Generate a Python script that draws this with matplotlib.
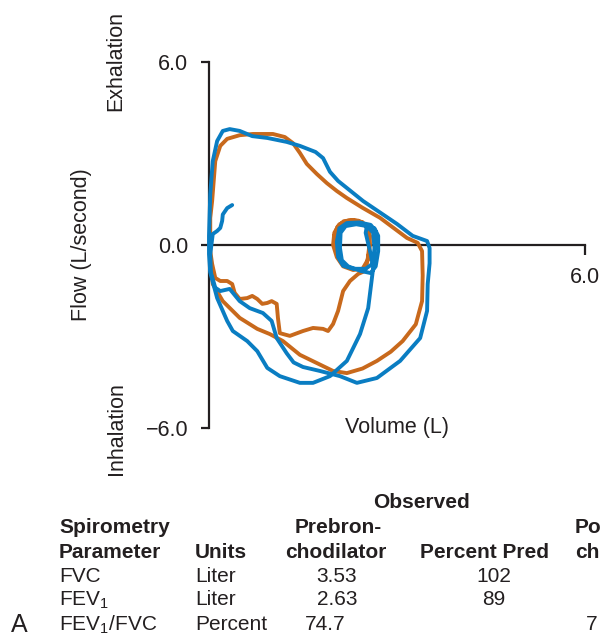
import matplotlib
matplotlib.use("Agg")
import matplotlib.pyplot as plt

plt.rcParams['font.family'] = ['Liberation Sans', 'DejaVu Sans']
plt.rcParams['mathtext.fontset'] = 'custom'
plt.rcParams['mathtext.rm'] = 'Liberation Sans'

# flow-volume loops, volume in L, flow in L/s
# prebronchodilator (orange)
pre_vol = [2.02, 2.0, 2.05, 2.15, 2.3, 2.45, 2.54, 2.56, 2.53, 2.45, 2.3, 2.14, 2.04, 1.98,
           2.0, 2.08, 2.22, 2.38, 2.5, 2.57, 2.56, 2.52, 2.49,
           2.38, 2.25, 2.14, 2.06, 1.98, 1.9, 1.82, 1.66, 1.5, 1.29, 1.13, 1.1, 1.08, 1.0,
           0.93, 0.85, 0.77, 0.69, 0.61, 0.49, 0.41, 0.37, 0.29, 0.18, 0.1, 0.05, 0.02, 0.02,
           0.02, 0.05, 0.1, 0.18, 0.29, 0.49, 0.7, 1.02, 1.21, 1.34, 1.45, 1.56, 1.72, 1.88,
           2.04, 2.2, 2.45, 2.73, 3.16, 3.33, 3.4,
           3.41, 3.4, 3.3, 3.09, 2.9, 2.68, 2.45, 2.2, 1.98, 1.72, 1.45, 1.18, 0.97, 0.77,
           0.49, 0.22, 0.06, 0.02]
pre_flow = [-0.1, 0.3, 0.6, 0.78, 0.82, 0.75, 0.5, 0.0, -0.5, -0.78, -0.82, -0.7, -0.4, 0.0,
            0.4, 0.68, 0.8, 0.8, 0.65, 0.3, -0.2, -0.6, -0.85,
            -0.95, -1.18, -1.51, -2.16, -2.59, -2.82, -2.75, -2.72, -2.82, -2.98, -2.89, -2.39, -1.93, -1.84,
            -1.9, -1.93, -1.77, -1.67, -1.74, -1.77, -1.57, -1.28, -1.18, -1.18, -1.08, -0.62, -0.2, 0.3,
            0.89, 1.44, 2.75, 3.25, 3.48, 3.6, 3.64, 3.64, 3.54, 3.34, 3.02, 2.66, 2.33, 2.03,
            1.77, 1.54, 1.22, 0.89, 0.23, 0.07, -0.2,
            -1.0, -1.84, -2.6, -3.15, -3.5, -3.8, -4.05, -4.2, -4.13, -3.87, -3.6, -3.15, -2.92, -2.75,
            -2.39, -1.84, -1.28, -0.5]

# postbronchodilator (blue)
post_vol = [2.66, 2.66, 2.58, 2.4, 2.2, 2.08, 2.04, 2.06, 2.14, 2.3, 2.5, 2.62, 2.64, 2.62,
            2.52, 2.35, 2.18, 2.1, 2.09, 2.12, 2.22, 2.42, 2.58, 2.66, 2.7, 2.7, 2.64, 2.52,
            2.5, 2.58, 2.62,
            2.54, 2.41, 2.2, 1.93, 1.66, 1.45, 1.13, 0.93, 0.77, 0.61, 0.38, 0.29, 0.13, 0.02,
            0.0, 0.0,
            0.02, 0.06, 0.13, 0.22, 0.33, 0.49, 0.69, 0.93, 1.24, 1.45, 1.7, 1.82, 1.93, 2.06,
            2.46, 3.0, 3.25, 3.48, 3.52,
            3.52, 3.49, 3.48, 3.37, 3.05, 2.68, 2.36, 2.09, 1.77, 1.5, 1.35, 1.24, 1.08, 1.0,
            0.86, 0.65, 0.49, 0.33, 0.18, 0.1, 0.03, 0.02,
            0.06, 0.13, 0.18, 0.21, 0.22, 0.29, 0.37]
post_flow = [0.0, 0.45, 0.66, 0.74, 0.72, 0.55, 0.1, -0.4, -0.68, -0.78, -0.78, -0.6, -0.1, 0.4,
             0.62, 0.68, 0.62, 0.4, -0.1, -0.5, -0.7, -0.85, -0.92, -0.7, -0.2, 0.3, 0.55, 0.62,
             0.4, -0.3, -0.75,
             -2.07, -2.92, -3.8, -4.3, -4.52, -4.52, -4.3, -4.03, -3.48, -3.15, -2.82, -2.49, -1.74, -0.9,
             -0.3, 0.3,
             1.67, 2.75, 3.41, 3.74, 3.8, 3.74, 3.57, 3.51, 3.38, 3.25, 3.05, 2.85, 2.4, 2.1,
             1.44, 0.69, 0.3, 0.13, -0.1,
             -0.6, -1.28, -2.16, -3.05, -3.8, -4.36, -4.52, -4.3, -4.13, -4.0, -3.85, -3.55, -3.05, -2.49,
             -2.23, -2.07, -1.84, -1.44, -1.51, -1.4, -0.9, -0.3,
             0.36, 0.46, 0.56, 0.79, 1.0, 1.21, 1.31]

y_ticks = [-6.0, 0.0, 6.0]
x_ticks = [6.0]

# table
params = ['FVC', r'FEV$_\mathregular{1}$', r'FEV$_\mathregular{1}$/FVC']
units = ['Liter', 'Liter', 'Percent']
prebron = ['3.53', '2.63', '74.7']
pct_pred = ['102', '89', '']

ink = '#231f20'
orange = '#c8691c'
blue = '#0a7dc2'

W, H = 600, 636
fig = plt.figure(figsize=(6.0, 6.36), dpi=100)


def fx(px):
    return px / W


def fy(py):
    return 1 - py / H


ax = fig.add_axes([fx(209), fy(428), (585 - 209) / W, (428 - 62) / H])
ax.set_xlim(0, 6)
ax.set_ylim(-6, 6)

ax.plot(pre_vol, pre_flow, color=orange, lw=2.8, solid_joinstyle='round',
        solid_capstyle='round', clip_on=False, zorder=3)
ax.plot(post_vol, post_flow, color=blue, lw=2.8, solid_joinstyle='round',
        solid_capstyle='round', clip_on=False, zorder=4)

for s in ['top', 'right']:
    ax.spines[s].set_visible(False)
ax.spines['bottom'].set_position(('data', 0))
for s in ['left', 'bottom']:
    ax.spines[s].set_linewidth(1.6)
    ax.spines[s].set_color(ink)
    ax.spines[s].set_zorder(2)

ax.set_yticks(y_ticks)
ax.set_yticklabels(['\u22126.0', '0.0', '6.0'])
ax.set_xticks(x_ticks)
ax.set_xticklabels(['6.0'])
ax.tick_params(axis='y', direction='out', length=6, width=1.6, color=ink,
               labelsize=15.5, labelcolor=ink, pad=9)
ax.tick_params(axis='x', direction='out', length=7, width=1.6, color=ink,
               labelsize=15.5, labelcolor=ink, pad=9)
ax.patch.set_visible(False)

fs = 15.5
fig.text(fx(116), fy(61), 'Exhalation', rotation=90, ha='center', va='center',
         fontsize=fs, color=ink)
fig.text(fx(81), fy(245), 'Flow (L/second)', rotation=90, ha='center', va='center',
         fontsize=fs, color=ink)
fig.text(fx(116), fy(429), 'Inhalation', rotation=90, ha='center', va='center',
         fontsize=fs, color=ink)
fig.text(fx(397), fy(428), 'Volume (L)', ha='center', va='center', fontsize=fs, color=ink)

# table below the plot
tfs = 15
fig.text(fx(421), fy(508), 'Observed', ha='center', va='baseline', fontsize=tfs,
         fontweight='bold', color=ink)
fig.text(fx(59), fy(533), 'Spirometry', ha='left', va='baseline', fontsize=tfs,
         fontweight='bold', color=ink)
fig.text(fx(59), fy(558), 'Parameter', ha='left', va='baseline', fontsize=tfs,
         fontweight='bold', color=ink)
fig.text(fx(195), fy(558), 'Units', ha='left', va='baseline', fontsize=tfs,
         fontweight='bold', color=ink)
fig.text(fx(338), fy(533), 'Prebron-', ha='center', va='baseline', fontsize=tfs,
         fontweight='bold', color=ink)
fig.text(fx(336), fy(558), 'chodilator', ha='center', va='baseline', fontsize=tfs,
         fontweight='bold', color=ink)
fig.text(fx(485), fy(558), 'Percent Pred', ha='center', va='baseline', fontsize=tfs,
         fontweight='bold', color=ink)
# next column runs off the right edge
fig.text(fx(575), fy(533), 'Postbron-', ha='left', va='baseline', fontsize=tfs,
         fontweight='bold', color=ink)
fig.text(fx(575), fy(558), 'chodilator', ha='left', va='baseline', fontsize=tfs,
         fontweight='bold', color=ink)

row_y = [582, 605, 630]
pre_x = [337, 337, 325]
for i in range(len(params)):
    fig.text(fx(59), fy(row_y[i]), params[i], ha='left', va='baseline', fontsize=tfs, color=ink)
    fig.text(fx(195), fy(row_y[i]), units[i], ha='left', va='baseline', fontsize=tfs, color=ink)
    fig.text(fx(pre_x[i]), fy(row_y[i]), prebron[i], ha='center', va='baseline', fontsize=tfs,
             color=ink)
    if pct_pred[i]:
        fig.text(fx(494), fy(row_y[i]), pct_pred[i], ha='center', va='baseline', fontsize=tfs,
                 color=ink)
fig.text(fx(586), fy(630), '7', ha='left', va='baseline', fontsize=tfs, color=ink)

fig.text(fx(11), fy(632), 'A', ha='left', va='baseline', fontsize=18, color=ink)

fig.savefig('out.png', dpi=100, facecolor='white')
